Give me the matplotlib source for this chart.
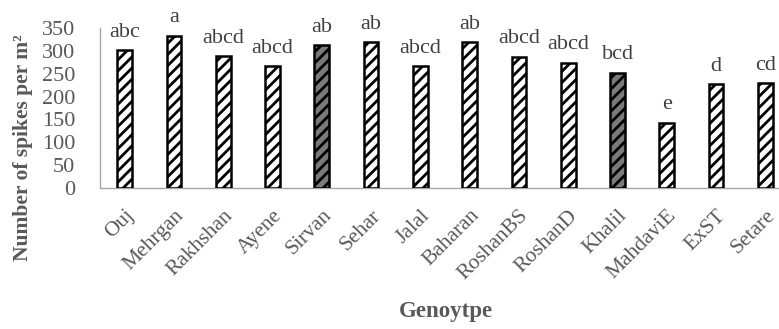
import numpy as np
import matplotlib.pyplot as plt

plt.rcParams['font.family'] = ['Liberation Serif', 'DejaVu Serif']
plt.rcParams['hatch.linewidth'] = 2.0

# data
genotypes = ['Ouj', 'Mehrgan', 'Rakhshan', 'Ayene', 'Sirvan', 'Sehar', 'Jalal',
             'Baharan', 'RoshanBS', 'RoshanD', 'Khalil', 'MahdaviE', 'ExST', 'Setare']
spikes = [302, 333, 289, 267, 313, 319, 267, 319, 287, 274, 252, 143, 227, 229]
letters = ['abc', 'a', 'abcd', 'abcd', 'ab', 'ab', 'abcd', 'ab', 'abcd', 'abcd',
           'bcd', 'e', 'd', 'cd']
dark = ['Sirvan', 'Khalil']

grey = '#595959'

fig = plt.figure(figsize=(7.79, 3.29), dpi=100)
ax = fig.add_axes([100 / 779, (329 - 188) / 329, 690 / 779, 160 / 329])

x = np.arange(len(genotypes))
for i, g in enumerate(genotypes):
    fc = '#7a7a7a' if g in dark else 'white'
    ax.bar(x[i], spikes[i], width=0.3, facecolor=fc, edgecolor='black',
           hatch='///', linewidth=1.8, zorder=3)
    ax.annotate(letters[i], (x[i], spikes[i]), xytext=(0, 6), textcoords='offset points',
                ha='center', va='bottom', fontsize=16, color='#404040')

ax.set_xlim(-0.5, len(genotypes) - 0.5)
ax.set_ylim(0, 350)
ax.set_yticks(np.arange(0, 351, 50))
ax.set_xticks(x)
ax.set_xticklabels(genotypes, rotation=45, ha='right', rotation_mode='anchor')
ax.tick_params(axis='y', length=0, labelsize=16, labelcolor=grey, pad=18)
ax.tick_params(axis='x', length=0, labelsize=15.5, labelcolor=grey, pad=13)

for s in ['top', 'right']:
    ax.spines[s].set_visible(False)
for s in ['left', 'bottom']:
    ax.spines[s].set_color('#a6a6a6')
    ax.spines[s].set_linewidth(1.0)

ax.set_ylabel('Number of spikes per m²', fontsize=15.5, fontweight='bold', color=grey)
ax.yaxis.set_label_coords(-67 / 690, 0.25)
fig.text(446 / 779, 1 - 312 / 329, 'Genoytpe', ha='center', va='center',
         fontsize=16.5, fontweight='bold', color=grey)

fig.savefig('out.png', dpi=100)
